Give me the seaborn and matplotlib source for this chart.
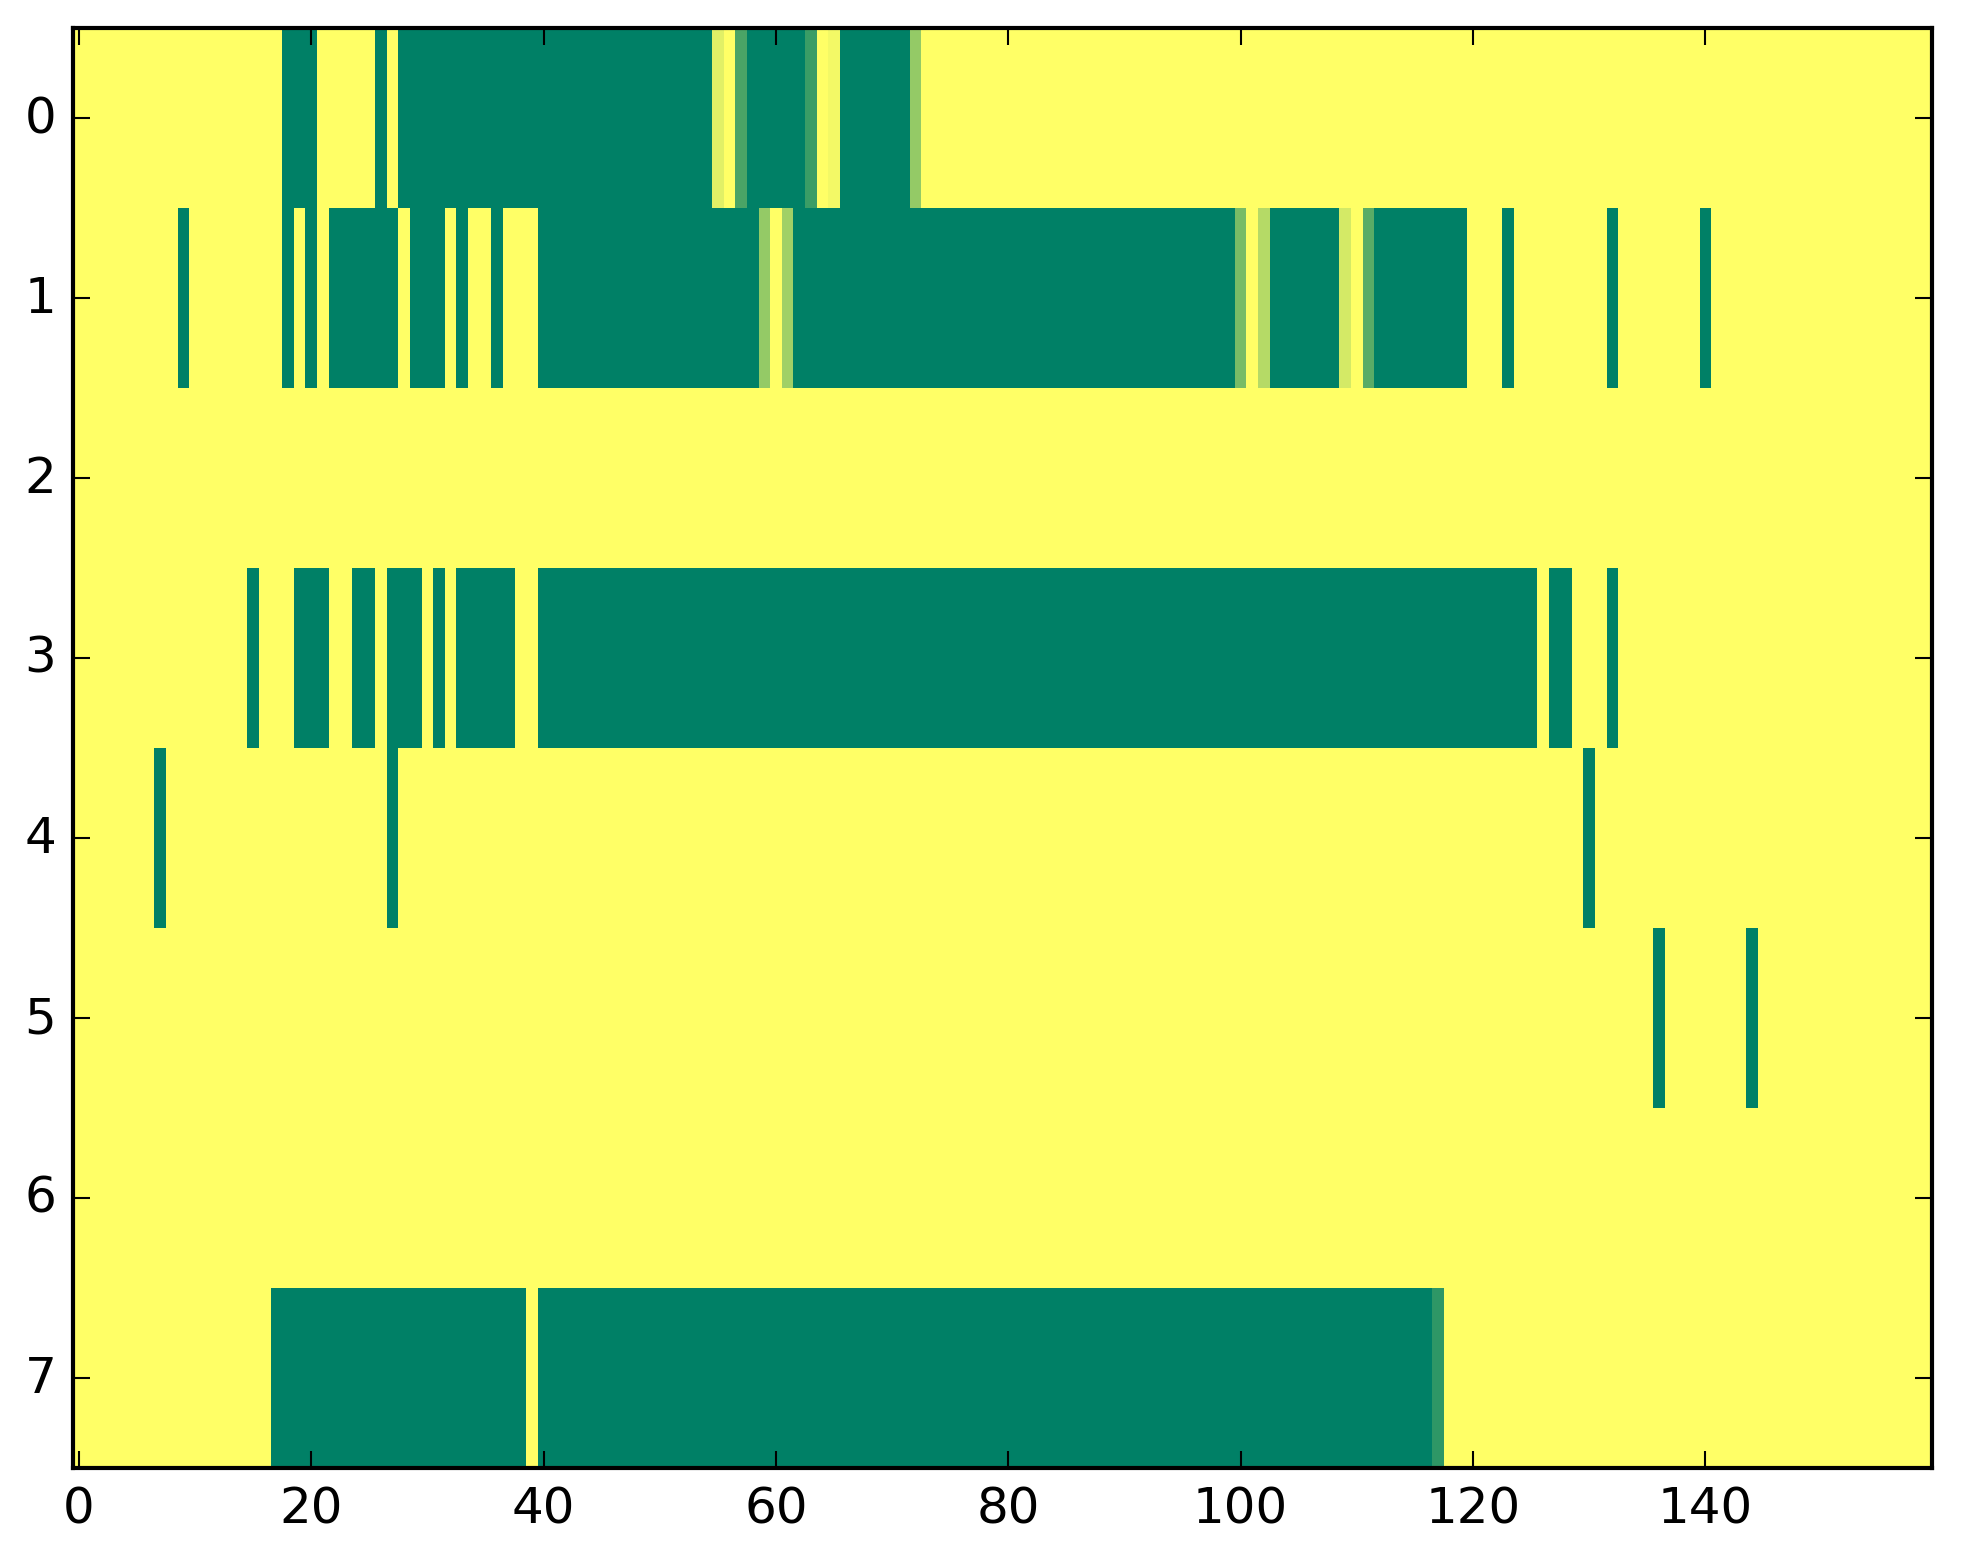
import numpy as np
import matplotlib
matplotlib.use("Agg")
import matplotlib.pyplot as plt
import seaborn as sns

n_rows = 8
n_cols = 160

# green cells (value 0), given as runs (first, last) per row
green_runs = {
    0: [(18, 20), (26, 26), (28, 54), (58, 62), (66, 71)],
    1: [(9, 9), (18, 18), (20, 20), (22, 27), (29, 31), (33, 33), (36, 36),
        (40, 58), (62, 99), (103, 108), (112, 119), (123, 123), (132, 132), (140, 140)],
    2: [],
    3: [(15, 15), (19, 21), (24, 25), (27, 29), (31, 31), (33, 37), (40, 125),
        (127, 128), (132, 132)],
    4: [(7, 7), (27, 27), (130, 130)],
    5: [(136, 136), (144, 144)],
    6: [],
    7: [(17, 38), (40, 116)],
}

# in-between cells: (row, col, value)
partial_cells = [
    (0, 55, 0.88), (0, 57, 0.29), (0, 63, 0.23), (0, 65, 0.95), (0, 72, 0.58),
    (1, 59, 0.58), (1, 61, 0.63), (1, 100, 0.47), (1, 102, 0.71),
    (1, 109, 0.83), (1, 111, 0.35),
    (7, 117, 0.18),
]

x_ticks = [0, 20, 40, 60, 80, 100, 120, 140]
y_ticks = list(range(n_rows))

# build the matrix
grid = np.ones((n_rows, n_cols))
for r, runs in green_runs.items():
    for a, b in runs:
        grid[r, a:b + 1] = 0.0
for r, c, v in partial_cells:
    grid[r, c] = v

fig = plt.figure(figsize=(1963 / 300, 1564 / 300), dpi=300)
ax = fig.add_axes([73 / 1963, 1 - 1469 / 1564, (1932 - 73) / 1963, (1469 - 29) / 1564])

sns.heatmap(grid, cmap="summer", vmin=0, vmax=1, cbar=False, ax=ax)

ax.set_xlim(0, n_cols)
ax.set_ylim(n_rows, 0)
ax.set_xticks([t + 0.5 for t in x_ticks])
ax.set_xticklabels([str(t) for t in x_ticks], rotation=0)
ax.set_yticks([t + 0.5 for t in y_ticks])
ax.set_yticklabels([str(t) for t in y_ticks], rotation=0)

for s in ax.spines.values():
    s.set_visible(True)
    s.set_linewidth(1.0)
    s.set_color("black")

ax.tick_params(direction="in", length=4, width=0.5, top=True, right=True,
               labelsize=12, pad=4, colors="black")

fig.savefig("out.png", dpi=300)
